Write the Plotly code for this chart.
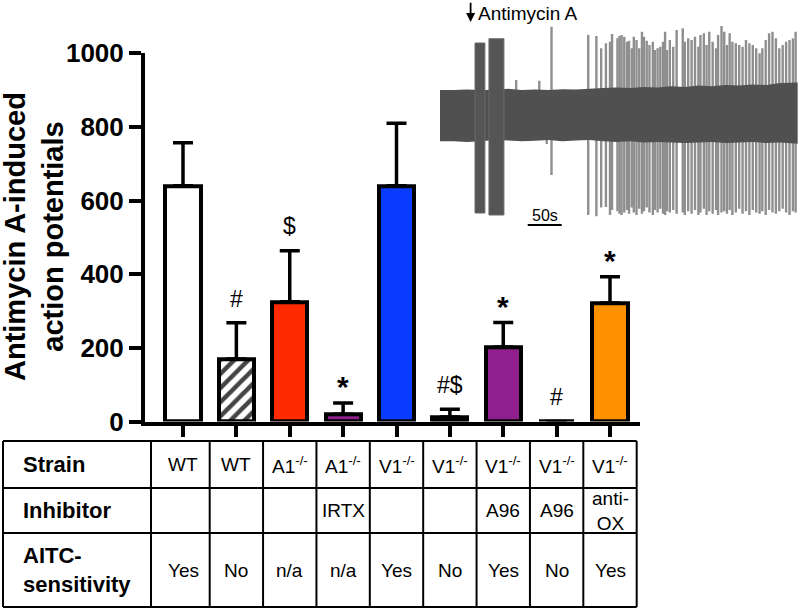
import plotly.graph_objects as go

# ---------------- data ----------------
groups = ["WT", "WT (AITC-insensitive)", "A1-/-", "A1-/- + IRTX", "V1-/-",
          "V1-/- (AITC-insensitive)", "V1-/- + A96", "V1-/- + A96 (AITC-insensitive)",
          "V1-/- + anti-OX"]
mean_ap = [640, 170, 325, 20, 640, 12, 202, 0, 322]
sem_ap = [117, 98, 139, 30, 170, 21, 67, 0, 71]
bar_colors = ["#FFFFFF", "#FFFFFF", "#FF2A00", "#8E1F8C", "#0A3CFF",
              "#000000", "#8E1F8C", "#FFFFFF", "#FF9000"]
bar_patterns = ["", "/", "", "", "", "", "", "", ""]
sig_marks = ["", "#", "$", "*", "", "#$", "*", "#", "*"]
y_ticks = [0, 200, 400, 600, 800, 1000]

row_labels = ["Strain", "Inhibitor", "AITC-<br>sensitivity"]
strain = ["WT", "WT", "A1<sup>-/-</sup>", "A1<sup>-/-</sup>", "V1<sup>-/-</sup>",
          "V1<sup>-/-</sup>", "V1<sup>-/-</sup>", "V1<sup>-/-</sup>", "V1<sup>-/-</sup>"]
inhibitor = ["", "", "", "IRTX", "", "", "A96", "A96", "anti-<br>OX"]
aitc = ["Yes", "No", "n/a", "n/a", "Yes", "No", "Yes", "No", "Yes"]

# inset recording (time in s, amplitude in arbitrary units)
band_t = [0, 20, 40, 60, 80, 100, 120, 140, 160, 180, 200, 220, 240, 260,
          280, 300, 320, 340, 360, 380, 400, 420, 440, 460, 480, 500, 526]
band_upper = [1.0, 1.0, 1.02, 1.0, 1.0, 1.05, 1.0, 1.02, 1.0, 1.03, 1.02, 1.05, 1.08, 1.1,
              1.08, 1.12, 1.1, 1.15, 1.12, 1.18, 1.15, 1.2, 1.18, 1.22, 1.2, 1.28, 1.3]
band_lower = [-1.05, -1.05, -1.08, -1.05, -1.0, -1.02, -1.05, -1.03, -1.0, -1.05, -1.02, -1.0,
              -1.05, -1.08, -1.05, -1.1, -1.08, -1.1, -1.12, -1.1, -1.08, -1.12, -1.1, -1.08,
              -1.12, -1.1, -1.15]
burst_start = [51.5, 72.0]
burst_end = [66.0, 94.0]
burst_top = [2.88, 3.05]
burst_bottom = [-3.92, -4.0]
spike_t = [112, 146, 157, 164,
           218, 230, 237, 244, 250, 253, 261, 264, 267, 271, 275, 278, 282, 285, 289, 293,
           297, 300, 304, 308, 313, 316, 320, 324, 328, 331, 334, 338, 343, 348,
           357, 360, 365, 370, 375, 380, 383, 388, 392, 396, 401, 406, 409, 414, 418, 422,
           426, 430, 435, 440, 445, 450, 455, 460, 465, 470, 474, 479, 484, 489, 494, 499,
           504, 509, 514, 519, 523]
spike_top = [1.4, 1.37, 1.0, 3.53,
             3.2, 3.16, 2.67, 2.87, 2.93, 3.24, 3.07, 3.16, 3.2, 3.13, 2.93, 2.97, 2.67, 3.13,
             3.0, 2.67, 3.33, 3.13, 2.97, 2.8, 2.93, 2.6, 2.67, 2.73, 2.93, 3.33, 2.6, 3.0,
             2.73, 3.4,
             3.47, 2.93, 3.07, 3.0, 3.13, 2.73, 3.2, 3.27, 2.8, 3.33, 2.93, 2.67, 3.2, 3.56,
             3.33, 2.8, 3.27, 2.93, 2.87, 2.8, 2.73, 3.0, 2.87, 2.8, 2.67, 2.47, 2.67, 3.0,
             3.27, 3.33, 3.07, 2.67, 2.8, 2.93, 3.0, 3.07, 3.33]
spike_bottom = [-1.0, -1.0, -1.16, -2.4,
                -4.0, -4.05, -3.7, -3.68, -4.0, -3.8, -3.85, -3.95, -4.0, -3.9, -3.8, -3.95,
                -3.7, -3.9, -4.0, -3.75, -3.95, -3.85, -3.7, -3.9, -4.0, -3.8, -3.9, -3.75,
                -3.95, -4.0, -3.85, -3.9, -3.8, -3.95,
                -3.9, -4.0, -3.85, -3.95, -3.8, -4.0, -3.9, -3.75, -4.0, -3.85, -3.95, -3.8,
                -4.0, -3.9, -3.85, -3.95, -3.8, -4.0, -3.9, -3.75, -3.95, -3.85, -4.0, -3.8,
                -3.9, -3.95, -3.85, -4.0, -3.8, -3.9, -3.95, -3.85, -3.75, -3.9, -4.0, -3.85,
                -3.9]
stim_t = 45
scale_s = 50
trace_len = 526.5

# ---------------- geometry ----------------
W, H = 800, 610
FONT = "Liberation Sans, Arial, sans-serif"
X_AX_L, X_AX_R = 145, 640          # px extent of x axis
X0_PX, DX_PX = 183, 53.375         # px of first category, px per category
Y_TOP, Y_BOT = 53.3, 421.5         # px of 1000 and 0
xr = [(X_AX_L - X0_PX) / DX_PX, (X_AX_R - X0_PX) / DX_PX]


def px2paper_x(px):
    return px / W


def px2paper_y(py):
    return 1 - py / H


def cat2paper(v):
    return (X0_PX + DX_PX * v) / W


n = len(mean_ap)
idx = list(range(n))

fig = go.Figure()

fig.add_trace(go.Bar(
    x=idx, y=mean_ap, width=0.66,
    marker=dict(color=bar_colors, line=dict(color="black", width=4),
                pattern=dict(shape=bar_patterns, fgcolor="black", bgcolor="white",
                             fgopacity=1, fillmode="overlay", size=10, solidity=0.45)),
    error_y=dict(type="data", array=sem_ap, arrayminus=[0] * n, symmetric=False,
                 color="black", thickness=3.5, width=10),
    hovertext=groups, showlegend=False, xaxis="x", yaxis="y",
))

# ---- inset recording ----
sx, sy = [], []
for t, top, bot in zip(spike_t, spike_top, spike_bottom):
    sx += [t, t, None]
    sy += [bot, top, None]
fig.add_trace(go.Scatter(x=sx, y=sy, mode="lines", line=dict(color="#8f8f8f", width=2.4),
                         xaxis="x2", yaxis="y2", showlegend=False, hoverinfo="skip"))
fig.add_trace(go.Scatter(x=band_t + band_t[::-1], y=band_upper + band_lower[::-1],
                         fill="toself", fillcolor="#505050", mode="none",
                         xaxis="x2", yaxis="y2", showlegend=False, hoverinfo="skip"))
for s, e, tp, bt in zip(burst_start, burst_end, burst_top, burst_bottom):
    fig.add_trace(go.Scatter(x=[s, e, e, s, s], y=[bt, bt, tp, tp, bt], fill="toself",
                             fillcolor="#555555", mode="lines",
                             line=dict(color="#6a6a6a", width=1),
                             xaxis="x2", yaxis="y2", showlegend=False, hoverinfo="skip"))

annotations = []
shapes = []

# significance marks
for i in idx:
    if sig_marks[i]:
        is_star = sig_marks[i] == "*"
        annotations.append(dict(
            x=i, y=mean_ap[i] + sem_ap[i] + 66, xref="x", yref="y",
            xanchor="center", yanchor="middle",
            text=("<b>*</b>" if is_star else sig_marks[i]), showarrow=False,
            font=dict(family=FONT, size=30 if is_star else 23, color="black"),
            yshift=-8 if is_star else 0))

# y axis title
annotations.append(dict(
    x=px2paper_x(34), y=px2paper_y(237), xref="paper", yref="paper",
    xanchor="center", yanchor="middle",
    text="<b>Antimycin A-induced<br>action potentials</b>", textangle=-90,
    showarrow=False, font=dict(family=FONT, size=29, color="black")))

# ---- table ----
row_bounds_px = [441, 488, 533, 607]
tbl_left_px = 3
label_right = -0.6
col_bounds = [label_right] + [i + 0.5 for i in idx]
for py in row_bounds_px:
    shapes.append(dict(type="line", xref="paper", yref="paper",
                       x0=px2paper_x(tbl_left_px), x1=cat2paper(col_bounds[-1]),
                       y0=px2paper_y(py), y1=px2paper_y(py),
                       line=dict(color="black", width=2)))
shapes.append(dict(type="line", xref="paper", yref="paper",
                   x0=px2paper_x(tbl_left_px), x1=px2paper_x(tbl_left_px),
                   y0=px2paper_y(row_bounds_px[0]), y1=px2paper_y(row_bounds_px[-1]),
                   line=dict(color="black", width=2)))
for cb in col_bounds:
    shapes.append(dict(type="line", xref="paper", yref="paper",
                       x0=cat2paper(cb), x1=cat2paper(cb),
                       y0=px2paper_y(row_bounds_px[0]), y1=px2paper_y(row_bounds_px[-1]),
                       line=dict(color="black", width=2)))

rows = [strain, inhibitor, aitc]
for r, (lab, vals) in enumerate(zip(row_labels, rows)):
    yc = px2paper_y((row_bounds_px[r] + row_bounds_px[r + 1]) / 2)
    annotations.append(dict(x=px2paper_x(21), y=yc, xref="paper", yref="paper",
                            text="<b>" + lab + "</b>", showarrow=False, align="left",
                            xanchor="left", yanchor="middle",
                            font=dict(family=FONT, size=22, color="black")))
    for i, v in enumerate(vals):
        if v:
            annotations.append(dict(x=i, y=yc, xref="x", yref="paper", text=v,
                                    xanchor="center", yanchor="middle",
                                    showarrow=False, align="center",
                                    font=dict(family=FONT, size=19, color="black")))

# ---- inset annotations ----
annotations.append(dict(x=stim_t, y=3.72, xref="x2", yref="y2", ax=stim_t, ay=4.55,
                        axref="x2", ayref="y2", text="", showarrow=True, arrowhead=2,
                        arrowsize=1, arrowwidth=1.8, arrowcolor="black"))
annotations.append(dict(x=stim_t + 8, y=4.05, xref="x2", yref="y2", text="Antimycin A",
                        xanchor="left", yanchor="middle", showarrow=False,
                        font=dict(family=FONT, size=19, color="black")))
sb_x0 = 129
shapes.append(dict(type="line", xref="x2", yref="y2", x0=sb_x0, x1=sb_x0 + scale_s,
                   y0=-4.4, y1=-4.4, line=dict(color="black", width=2)))
annotations.append(dict(x=sb_x0 + scale_s / 2, y=-4.0, xref="x2", yref="y2", text="50s",
                        xanchor="center", yanchor="middle",
                        showarrow=False, font=dict(family=FONT, size=16, color="black")))

fig.update_layout(
    width=W, height=H, margin=dict(l=0, r=0, t=0, b=0, pad=0, autoexpand=False),
    paper_bgcolor="white", plot_bgcolor="rgba(0,0,0,0)",
    font=dict(family=FONT, color="black"),
    bargap=0, showlegend=False,
    xaxis=dict(domain=[px2paper_x(X_AX_L), px2paper_x(X_AX_R)], range=xr, automargin=False,
               showgrid=False, zeroline=False, showline=True, linecolor="black", linewidth=4,
               ticks="outside", ticklen=11, tickwidth=4, tickcolor="black",
               tickvals=idx, showticklabels=False, anchor="y"),
    yaxis=dict(domain=[px2paper_y(Y_BOT), px2paper_y(Y_TOP)], range=[0, 1000],
               automargin=False,
               showgrid=False, zeroline=False, showline=True, linecolor="black", linewidth=4,
               ticks="outside", ticklen=12, tickwidth=4, tickcolor="black",
               tickvals=y_ticks,
               tickfont=dict(family=FONT, size=26, color="black", weight="bold"),
               anchor="x"),
    xaxis2=dict(domain=[px2paper_x(440), px2paper_x(798)], range=[0, trace_len],
                visible=False, anchor="y2", automargin=False),
    yaxis2=dict(domain=[px2paper_y(232), 1], range=[-4.68, 4.6], visible=False, anchor="x2",
                automargin=False),
    annotations=annotations, shapes=shapes,
)

fig.write_html("out.html", config={"displayModeBar": False},
               post_script="document.body.style.margin='0';document.body.style.overflow='hidden';")
